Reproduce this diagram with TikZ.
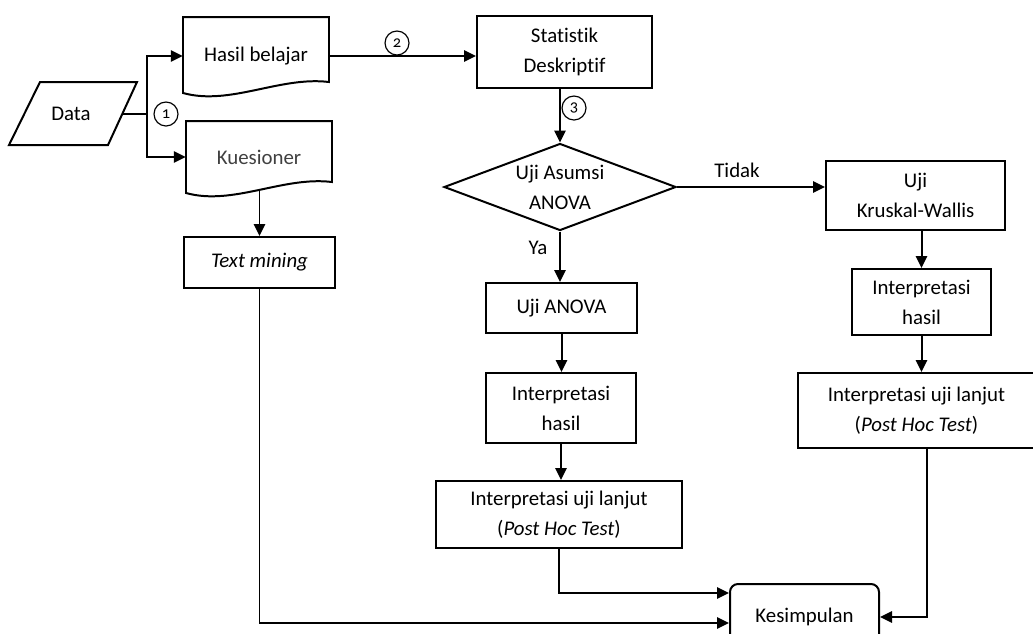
\documentclass[tikz,border=0pt]{standalone}
\usepackage{fontspec}
\setmainfont{Carlito}[Ligatures={TeX,NoCommon}]
\usetikzlibrary{arrows.meta,shapes.geometric,calc}
\begin{document}
\begin{tikzpicture}[x=0.03cm,y=-0.03cm,
  every node/.style={font=\fontsize{17.8}{25.6}\selectfont, align=center, inner sep=0pt},
  box/.style={draw, line width=1.7pt, rectangle},
  ln/.style={line width=1.7pt},
  arr/.style={line width=1.7pt, -{Triangle[length=0.36cm,width=0.34cm]}},
  num/.style={draw, circle, line width=1pt, minimum size=0.72cm, font=\fontsize{14}{14}\selectfont\addfontfeatures{Numbers=OldStyle}},
]
\useasboundingbox (0,0) rectangle (1033,633);

% Data (parallelogram)
\draw[ln] (40,82) -- (137,82) -- (108,145) -- (9,145) -- cycle;
\node (data) at (71,114) {Data};
\coordinate (datar) at (122.5,113.5);
\coordinate (split) at (147,113.5);

% Documents
\draw[ln] (183,17) -- (329,17) -- (329,82) .. controls (280,76) and (230,106) .. (183,93) -- cycle;
\node[minimum width=4.38cm, minimum height=1.5cm] (hasil) at (256,56) {Hasil belajar};
\draw[ln] (186,121) -- (332,121) -- (332,182) .. controls (283,176) and (233,206) .. (186,193) -- cycle;
\node[minimum width=4.38cm, minimum height=1.5cm, text=black!75] (kues) at (259,157) {Kuesioner};
\coordinate (kuesb) at (259.5,190);

% Boxes
\node[box, minimum width=4.53cm, minimum height=1.53cm] (tm) at (259.5,262.5) {\textit{Text mining}};
\node[box, minimum width=5.25cm, minimum height=2.16cm] (stat) at (564.5,52) {Statistik\\Deskriptif};
\node[draw, line width=1.7pt, diamond, aspect=2.67, minimum width=6.96cm, minimum height=2.61cm] (dia) at (560,187) {Uji Asumsi\\ANOVA};
\node[box, minimum width=5.37cm, minimum height=2.07cm] (kw) at (915.5,195.5) {Uji\\Kruskal-Wallis};
\node[box, minimum width=4.17cm, minimum height=1.98cm] (kwh) at (921.5,302) {Interpretasi\\hasil};
\node[box, minimum width=7.11cm, minimum height=2.25cm] (kwl) at (916.5,410.5) {Interpretasi uji lanjut\\(\textit{Post Hoc Test})};
\node[box, minimum width=4.53cm, minimum height=1.5cm] (ua) at (561.5,308) {Uji ANOVA};
\node[box, minimum width=4.5cm, minimum height=2.1cm] (uah) at (561,408) {Interpretasi\\hasil};
\node[box, minimum width=7.38cm, minimum height=2.01cm] (ual) at (559,514.5) {Interpretasi uji lanjut\\(\textit{Post Hoc Test})};
\node[box, rounded corners=0.24cm, minimum width=4.47cm, minimum height=1.98cm] (kes) at (804.5,617) {Kesimpulan};

% Labels
\node (tidak) at (737,170) {Tidak};
\node (ya) at (538,248) {Ya};
\node[num] (n1) at (166,114) {1};
\node[num] (n2) at (397,43) {2};
\node[num] (n3) at (574,108) {3};

% Connectors
\draw[ln] (datar) -- (split);
\draw[arr] (split) |- (hasil.west);
\draw[arr] (split) |- (kues.west);
\draw[arr] (hasil.east) -- (hasil.east -| stat.west);
\draw[arr] (kuesb) -- (tm.north);
\draw[arr] (dia.north |- stat.south) -- (dia.north);
\draw[arr] (dia.east) -- (dia.east -| kw.west);
\draw[arr] (dia.south) -- (dia.south |- ua.north);
\draw[arr] (ua.south) -- (ua.south |- uah.north);
\draw[arr] (uah.south) -- (uah.south |- ual.north);
\draw[arr] (ual.south) |- ([yshift=0.72cm]kes.west);
\draw[arr] (tm.south) |- ([yshift=-0.18cm]kes.west);
\draw[arr] (kwh.north |- kw.south) -- (kwh.north);
\draw[arr] (kwh.south) -- (kwh.south |- kwl.north);
\draw[arr] ([xshift=0.3cm]kwl.south) |- (kes.east);
\end{tikzpicture}
\end{document}
